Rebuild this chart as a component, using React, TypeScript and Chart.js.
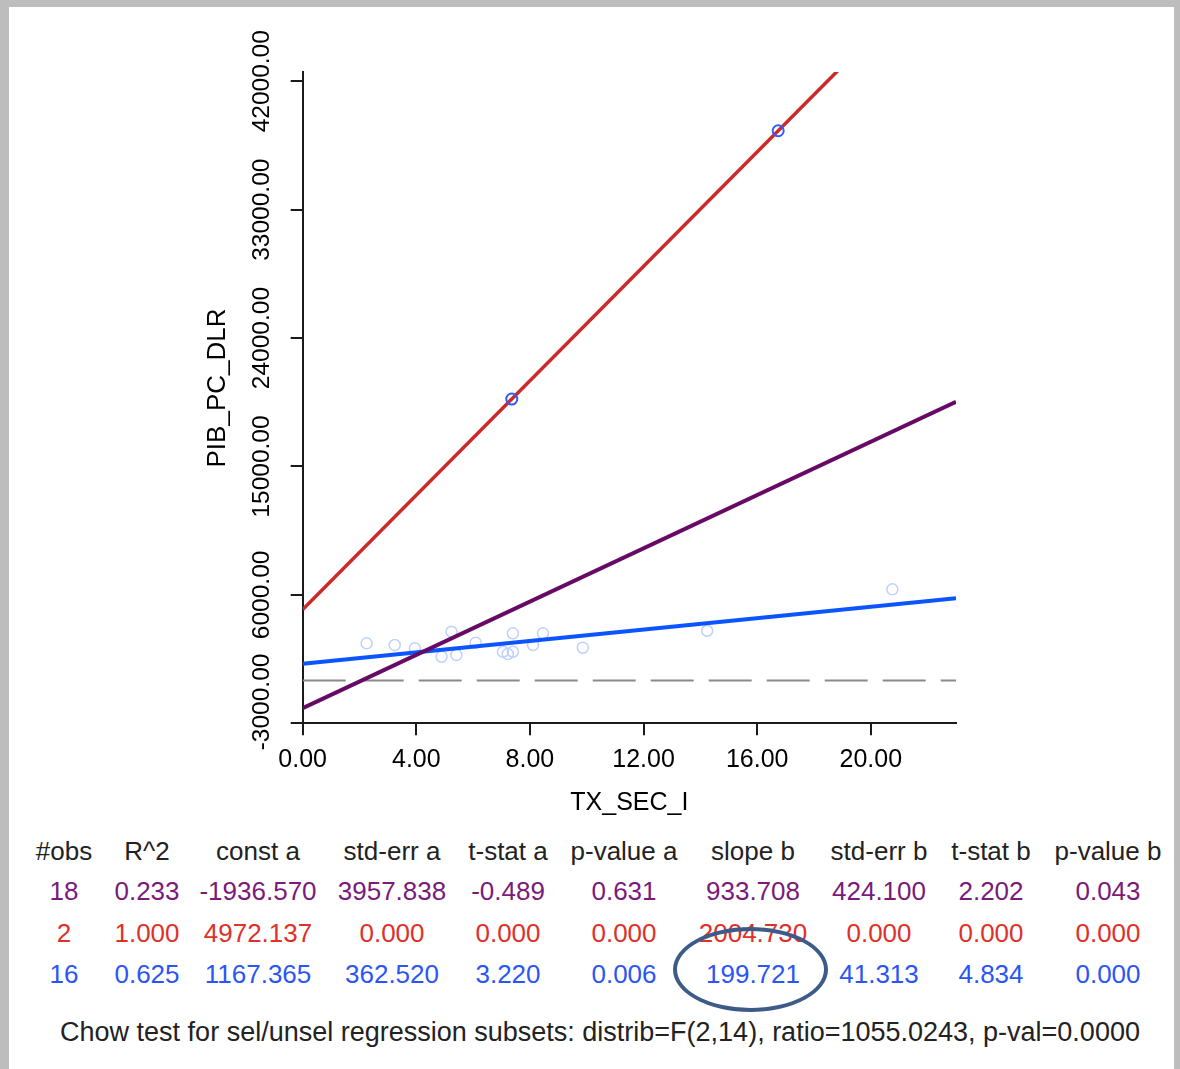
import React, { useEffect, useRef } from 'react';
import { Chart, registerables } from 'chart.js';

Chart.register(...registerables);

// ---- data ----
const xTicks = [0, 4, 8, 12, 16, 20];
const yTicks = [-3000, 6000, 15000, 24000, 33000, 42000];
const xMin = 0;
const xMax = 23;
const yMin = -3000;
const yMax = 42650;

const unselX = [2.25, 3.24, 3.95, 4.89, 5.24, 5.41, 6.09, 7.05, 7.22, 7.4, 7.4, 8.11, 8.46, 9.86, 14.24, 20.76];
const unselY = [2605, 2486, 2255, 1666, 3417, 1785, 2647, 2016, 1855, 2016, 3305, 2486, 3305, 2297, 3488, 6388];
const selX = [7.36, 16.74];
const selY = [19727, 38531];

const headers = ['#obs', 'R^2', 'const a', 'std-err a', 't-stat a', 'p-value a', 'slope b', 'std-err b', 't-stat b', 'p-value b'];
const rowAll = ['18', '0.233', '-1936.570', '3957.838', '-0.489', '0.631', '933.708', '424.100', '2.202', '0.043'];
const rowSel = ['2', '1.000', '4972.137', '0.000', '0.000', '0.000', '2004.730', '0.000', '0.000', '0.000'];
const rowUnsel = ['16', '0.625', '1167.365', '362.520', '3.220', '0.006', '199.721', '41.313', '4.834', '0.000'];
const chowText = 'Chow test for sel/unsel regression subsets: distrib=F(2,14), ratio=1055.0243, p-val=0.0000';
const xTitle = 'TX_SEC_I';
const yTitle = 'PIB_PC_DLR';

// ---- layout / style ----
const FONT = '"Liberation Sans", Arial, sans-serif';
const colCenters = [64, 147, 258, 392, 508, 624, 753, 879, 991, 1108];
const rowCenters = [851, 891, 933, 974];
const rowColors = ['#222222', '#7a1a7a', '#e0302a', '#2b55f5'];

function regLine(row: string[]) {
  const a = parseFloat(row[2]);
  const b = parseFloat(row[6]);
  return [
    { x: xMin, y: a + b * xMin },
    { x: xMax, y: a + b * xMax },
  ];
}

const axisTextPlugin = {
  id: 'axisText',
  afterDraw(chart: any) {
    const { ctx, chartArea, scales } = chart;
    const xs = scales.x;
    const ys = scales.y;
    ctx.save();
    ctx.fillStyle = '#000';
    ctx.textAlign = 'center';
    ctx.textBaseline = 'middle';
    ctx.font = `25px ${FONT}`;
    xTicks.forEach((v) => {
      ctx.fillText(v.toFixed(2), xs.getPixelForValue(v), chartArea.bottom + 37);
    });
    ctx.font = `24.5px ${FONT}`;
    yTicks.forEach((v) => {
      const label = v.toFixed(2);
      const half = ctx.measureText(label).width / 2;
      let py = ys.getPixelForValue(v);
      py = Math.min(py, chartArea.bottom + 27 - half);
      ctx.save();
      ctx.translate(chartArea.left - 40, py);
      ctx.rotate(-Math.PI / 2);
      ctx.fillText(label, 0, 0);
      ctx.restore();
    });
    ctx.font = `25px ${FONT}`;
    ctx.fillText(xTitle, (chartArea.left + chartArea.right) / 2, chartArea.bottom + 80);
    ctx.font = `26px ${FONT}`;
    ctx.save();
    ctx.translate(chartArea.left - 85, chartArea.top + 316);
    ctx.rotate(-Math.PI / 2);
    ctx.fillText(yTitle, 0, 0);
    ctx.restore();
    ctx.restore();
  },
};

function ChartCanvas() {
  const ref = useRef<HTMLCanvasElement | null>(null);
  useEffect(() => {
    if (!ref.current) return;
    const axisCommon = {
      type: 'linear' as const,
      ticks: { display: false },
      grid: {
        drawOnChartArea: false,
        drawTicks: true,
        tickLength: 12,
        color: '#1a1a1a',
        lineWidth: 2,
      },
      border: { display: true, color: '#1a1a1a', width: 2 },
    };
    const chart = new Chart(ref.current, {
      type: 'scatter',
      data: {
        datasets: [
          {
            label: 'zero',
            data: [
              { x: xMin, y: 0 },
              { x: xMax, y: 0 },
            ],
            showLine: true,
            borderColor: '#8a8a8a',
            borderWidth: 2,
            borderDash: [43, 15],
            pointRadius: 0,
            order: 6,
          },
          {
            label: 'unselected',
            data: unselX.map((x, i) => ({ x, y: unselY[i] })),
            pointStyle: 'circle',
            pointRadius: 5.5,
            pointBorderWidth: 1.5,
            pointBorderColor: '#bfd0ff',
            pointBackgroundColor: 'rgba(0,0,0,0)',
            borderColor: '#bfd0ff',
            backgroundColor: 'rgba(0,0,0,0)',
            order: 5,
          },
          {
            label: 'unsel fit',
            data: regLine(rowUnsel),
            showLine: true,
            borderColor: '#0a55ff',
            borderWidth: 4,
            pointRadius: 0,
            order: 4,
          },
          {
            label: 'sel fit',
            data: regLine(rowSel),
            showLine: true,
            borderColor: '#cc2a2a',
            borderWidth: 3.5,
            pointRadius: 0,
            order: 3,
          },
          {
            label: 'all fit',
            data: regLine(rowAll),
            showLine: true,
            borderColor: '#660a66',
            borderWidth: 4,
            pointRadius: 0,
            order: 2,
          },
          {
            label: 'selected',
            data: selX.map((x, i) => ({ x, y: selY[i] })),
            pointStyle: 'circle',
            pointRadius: 5.5,
            pointBorderWidth: 2,
            pointBorderColor: '#2f5cff',
            pointBackgroundColor: 'rgba(0,0,0,0)',
            borderColor: '#2f5cff',
            backgroundColor: 'rgba(0,0,0,0)',
            order: 1,
          },
        ],
      },
      options: {
        animation: false,
        responsive: false,
        maintainAspectRatio: false,
        layout: { padding: { left: 0, right: 224, top: 72, bottom: 0 } },
        plugins: { legend: { display: false }, tooltip: { enabled: false } },
        scales: {
          x: {
            ...axisCommon,
            min: xMin,
            max: xMax,
            afterBuildTicks: (s: any) => {
              s.ticks = xTicks.map((v) => ({ value: v }));
            },
            afterFit: (s: any) => {
              s.height = 106.7;
            },
          },
          y: {
            ...axisCommon,
            min: yMin,
            max: yMax,
            afterBuildTicks: (s: any) => {
              s.ticks = yTicks.map((v) => ({ value: v }));
            },
            afterFit: (s: any) => {
              s.width = 302.7;
            },
          },
        },
      },
      plugins: [axisTextPlugin],
    } as any);
    return () => chart.destroy();
  }, []);
  return (
    <canvas
      ref={ref}
      width={1180}
      height={830}
      style={{ position: 'absolute', left: 0, top: 0, width: 1180, height: 830 }}
    />
  );
}

function Cell({ text, cx, cy, color, size }: { text: string; cx: number; cy: number; color: string; size: number }) {
  return (
    <div
      style={{
        position: 'absolute',
        left: cx,
        top: cy,
        transform: 'translate(-50%, -50%)',
        whiteSpace: 'nowrap',
        fontFamily: FONT,
        fontSize: size,
        lineHeight: 1,
        color,
      }}
    >
      {text}
    </div>
  );
}

export default function App() {
  useEffect(() => {
    document.body.style.margin = '0';
  }, []);
  const rows = [headers, rowAll, rowSel, rowUnsel];
  return (
    <div style={{ position: 'relative', width: 1180, height: 1069, background: '#fff', overflow: 'hidden' }}>
      <ChartCanvas />
      {rows.map((r, ri) =>
        r.map((t, ci) => (
          <Cell key={`${ri}-${ci}`} text={t} cx={colCenters[ci]} cy={rowCenters[ri]} color={rowColors[ri]} size={26} />
        ))
      )}
      <Cell text={chowText} cx={600} cy={1032} color="#222222" size={27} />
      <div
        style={{
          position: 'absolute',
          left: 673,
          top: 927,
          width: 155,
          height: 85,
          border: '4px solid #3d5b88',
          borderRadius: '50%',
          boxSizing: 'border-box',
        }}
      />
      <div style={{ position: 'absolute', left: 0, top: 0, width: 1180, height: 7, background: '#bdbdbd' }} />
      <div style={{ position: 'absolute', left: 0, top: 0, width: 9, height: 1069, background: '#bdbdbd' }} />
      <div style={{ position: 'absolute', left: 1174, top: 0, width: 6, height: 1069, background: '#bdbdbd' }} />
    </div>
  );
}
